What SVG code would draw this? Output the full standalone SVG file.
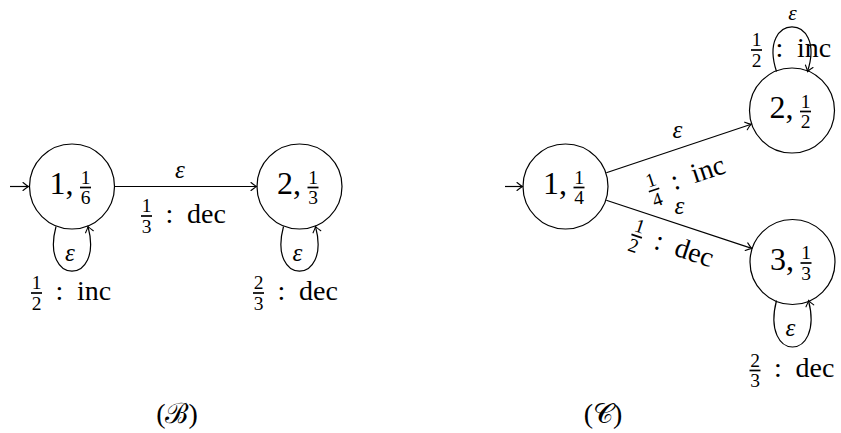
<svg xmlns="http://www.w3.org/2000/svg" width="841" height="433" viewBox="0 0 841 433">
<defs>
<style>
.st{fill:none;stroke:#000;stroke-width:1.2}
.n{font-family:"Liberation Serif","DejaVu Serif",serif;font-size:32px;fill:#000}
.f{font-family:"Liberation Serif","DejaVu Serif",serif;font-size:19.5px;fill:#000;text-anchor:middle}
.l{font-family:"Liberation Serif","DejaVu Serif",serif;font-size:28px;fill:#000}
.c{text-anchor:middle}
.e{font-family:"Liberation Serif","DejaVu Serif",serif;font-size:25px;font-style:italic;fill:#000;text-anchor:middle}
.bar{stroke:#000;stroke-width:1.7}
.cap{font-family:"Liberation Serif","DejaVu Serif",serif;font-size:28px;fill:#000;text-anchor:middle}
</style>
<marker id="arr" viewBox="-7 -5 9 10" markerWidth="9" markerHeight="10" refX="0" refY="0" orient="auto" markerUnits="userSpaceOnUse">
<path d="M-5.5,-4 Q-1.8,-0.9 0,0 Q-1.8,0.9 -5.5,4" fill="none" stroke="#000" stroke-width="1.1" stroke-linecap="round"/>
</marker>
</defs>
<rect width="841" height="433" fill="#fff"/>

<g id="connectors">
<path class="st" d="M10,186.5 L28.5,186.5" marker-end="url(#arr)"/>
<path class="st" d="M114.5,186.5 L256.5,186.5" marker-end="url(#arr)"/>
<path class="st" d="M56,226.5 C40,286 104,286 88,226.5" marker-end="url(#arr)"/>
<path class="st" d="M283.5,226.5 C267.5,286 331.5,286 315.5,226.5" marker-end="url(#arr)"/>
<path class="st" d="M505,186.5 L522.5,186.5" marker-end="url(#arr)"/>
<path class="st" d="M606.3,172.8 L751.2,124.2" marker-end="url(#arr)"/>
<path class="st" d="M606.3,200.2 L751.7,248.4" marker-end="url(#arr)"/>
<path class="st" d="M776.5,71.5 C757,12 827,12 807.5,71.5" marker-end="url(#arr)"/>
<path class="st" d="M776.5,300.5 C760.5,362.5 824.5,362.5 808.5,300.5" marker-end="url(#arr)"/>
</g>

<g id="B1">
<circle class="st" cx="72" cy="186.5" r="42.5"/>
<text class="n" x="49.5" y="194">1,</text>
<text class="f" x="85.5" y="183.5">1</text><line class="bar" x1="80" y1="187.5" x2="91" y2="187.5"/><text class="f" x="85.5" y="204">6</text>
</g>
<g id="B2">
<circle class="st" cx="299.5" cy="186.5" r="42.5"/>
<text class="n" x="277" y="194">2,</text>
<text class="f" x="313" y="183.5">1</text><line class="bar" x1="307.5" y1="187.5" x2="318.5" y2="187.5"/><text class="f" x="313" y="204">3</text>
</g>
<g id="C1">
<circle class="st" cx="565.5" cy="186.5" r="42.5"/>
<text class="n" x="543" y="194">1,</text>
<text class="f" x="579" y="183.5">1</text><line class="bar" x1="573.5" y1="187.5" x2="584.5" y2="187.5"/><text class="f" x="579" y="204">4</text>
</g>
<g id="C2">
<circle class="st" cx="792" cy="110.5" r="42.5"/>
<text class="n" x="769.5" y="118">2,</text>
<text class="f" x="805.5" y="107.5">1</text><line class="bar" x1="800" y1="111.5" x2="811" y2="111.5"/><text class="f" x="805.5" y="128">2</text>
</g>
<g id="C3">
<circle class="st" cx="792.5" cy="262" r="42.5"/>
<text class="n" x="770" y="269.5">3,</text>
<text class="f" x="806" y="259">1</text><line class="bar" x1="800.5" y1="263" x2="811.5" y2="263"/><text class="f" x="806" y="279.5">3</text>
</g>

<g id="labels">
<text class="e" x="180" y="177.5">ε</text>
<text class="f" x="146.5" y="212">1</text><line class="bar" x1="141" y1="216" x2="152" y2="216"/><text class="f" x="146.5" y="232.5">3</text>
<text class="l c" x="169.5" y="222.5">:</text><text class="l" x="187" y="222.5">dec</text>

<text class="e" x="70" y="260.5">ε</text>
<text class="f" x="36.5" y="289">1</text><line class="bar" x1="31" y1="293" x2="42" y2="293"/><text class="f" x="36.5" y="309.5">2</text>
<text class="l c" x="59.5" y="299.5">:</text><text class="l" x="77" y="299.5">inc</text>

<text class="e" x="297.5" y="260.5">ε</text>
<text class="f" x="258.5" y="289">2</text><line class="bar" x1="253" y1="293" x2="264" y2="293"/><text class="f" x="258.5" y="309.5">3</text>
<text class="l c" x="281.5" y="299.5">:</text><text class="l" x="299" y="299.5">dec</text>

<text class="e" x="677.5" y="137.5">ε</text>
<g transform="translate(687,179) rotate(-18.5)">
<text class="f" x="-34.75" y="-4">1</text><line class="bar" x1="-40.25" y1="0" x2="-29.25" y2="0"/><text class="f" x="-34.75" y="16.5">4</text>
<text class="l c" x="-11.75" y="6.5">:</text><text class="l" x="5.75" y="6.5">inc</text>
</g>

<text class="e" x="679.5" y="214">ε</text>
<g transform="translate(672.5,248) rotate(18.4)">
<text class="f" x="-37.75" y="-4">1</text><line class="bar" x1="-43.25" y1="0" x2="-32.25" y2="0"/><text class="f" x="-37.75" y="16.5">2</text>
<text class="l c" x="-14.75" y="6.5">:</text><text class="l" x="2.75" y="6.5">dec</text>
</g>

<text class="e" x="792.5" y="19.5" style="font-size:21.5px">ε</text>
<text class="f" x="756.5" y="46">1</text><line class="bar" x1="751" y1="50" x2="762" y2="50"/><text class="f" x="756.5" y="66.5">2</text>
<text class="l c" x="779.5" y="56.5">:</text><text class="l" x="797" y="56.5">inc</text>

<text class="e" x="790.5" y="335.5">ε</text>
<text class="f" x="755" y="366.5">2</text><line class="bar" x1="749.5" y1="370.5" x2="760.5" y2="370.5"/><text class="f" x="755" y="387">3</text>
<text class="l c" x="778" y="377">:</text><text class="l" x="795.5" y="377">dec</text>
</g>

<g id="captions">
<text class="cap" x="177" y="423">(ℬ)</text>
<text class="cap" x="603" y="423">(𝒞)</text>
</g>
</svg>
